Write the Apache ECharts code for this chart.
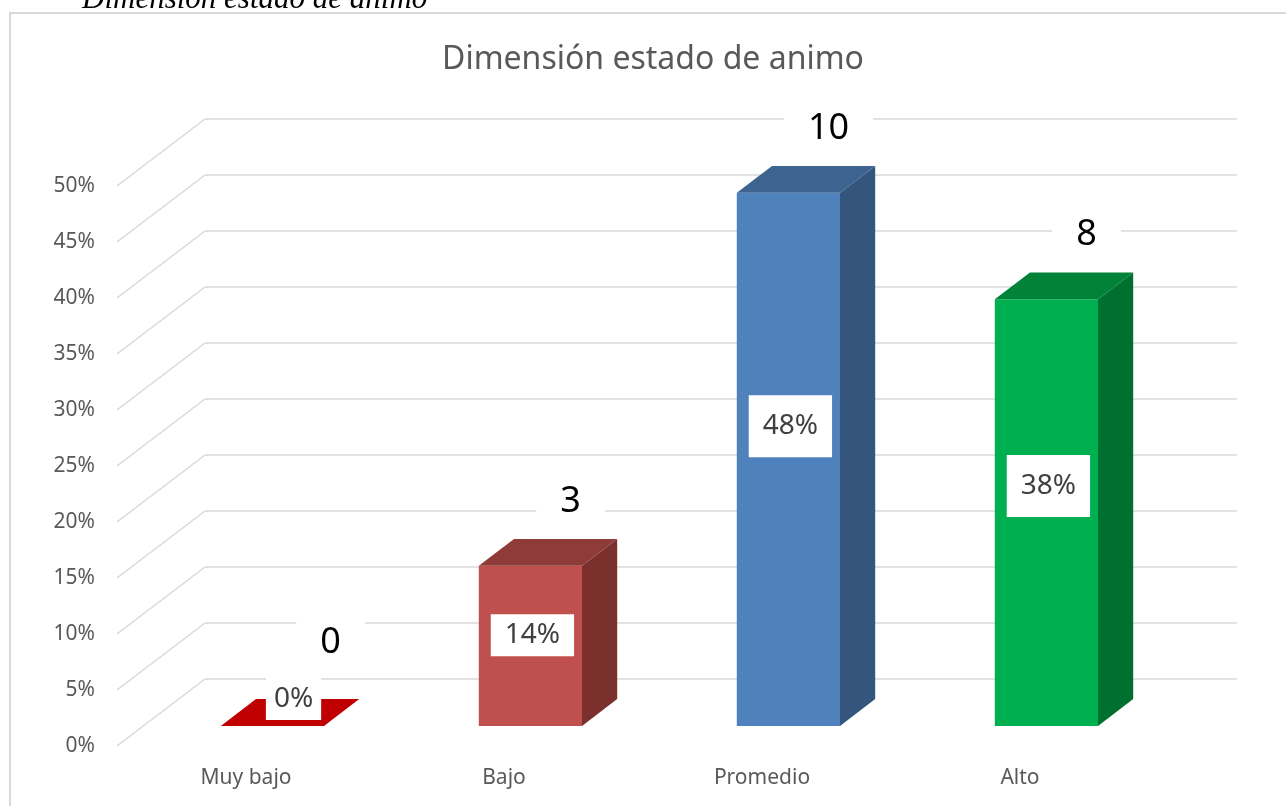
<!DOCTYPE html>
<html>
<head>
<meta charset="utf-8">
<title>Dimensión estado de animo</title>
<script src="https://cdn.jsdelivr.net/npm/echarts@6/dist/echarts.min.js"></script>
<style>
  html, body { margin: 0; padding: 0; background: #fff; }
  #chart { width: 1286px; height: 806px; }
</style>
</head>
<body>
<div id="chart"></div>
<script>
  // data
  const categories = ['Muy bajo', 'Bajo', 'Promedio', 'Alto']
  const counts = [0, 3, 10, 8]
  const shares = [0, 0.143, 0.476, 0.381]
  const yTicks = [0, 0.05, 0.1, 0.15, 0.2, 0.25, 0.3, 0.35, 0.4, 0.45, 0.5]

  // front / top / side colours of each 3d bar
  const palette = [
    { front: '#C00000', top: '#C00000', side: '#A00000' },
    { front: '#C0504D', top: '#8E3B39', side: '#7B302E' },
    { front: '#4F81BD', top: '#3D6391', side: '#34557C' },
    { front: '#00B050', top: '#008238', side: '#007030' }
  ]

  // fake perspective: the back wall sits this far from the front plane
  const DEPTH_X = 88
  const DEPTH_Y = -67
  const BAR_DEPTH = 0.4   // bar depth, as part of the floor depth
  const BAR_POS = 0.3     // where the bar front sits in the floor depth
  const BAR_WIDTH = 0.4   // part of the category band

  const front = { left: 117, top: 186, width: 1032, height: 560 }
  const gridOf = (k) => ({
    left: front.left + DEPTH_X * k,
    top: front.top + DEPTH_Y * k,
    width: front.width,
    height: front.height,
    outerBoundsMode: 'none'
  })

  const chart = echarts.init(document.getElementById('chart'))

  const valueAxis = (gridIndex, extra) => Object.assign({
    type: 'value',
    gridIndex,
    min: 0,
    max: 0.5,
    interval: 0.05,
    axisLine: { show: false },
    axisTick: { show: false },
    axisLabel: { show: false },
    splitLine: { show: false }
  }, extra)

  const catAxis = (gridIndex, extra) => Object.assign({
    type: 'category',
    gridIndex,
    data: categories,
    axisLine: { show: false },
    axisTick: { show: false },
    axisLabel: { show: false },
    splitLine: { show: false }
  }, extra)

  const option = {
    backgroundColor: '#fff',
    animation: false,
    graphic: [
      {
        type: 'rect',
        shape: { x: 10, y: 13, width: 1300, height: 820 },
        style: { fill: 'none', stroke: '#D9D9D9', lineWidth: 2 },
        z: 0
      },
      {
        type: 'text',
        style: {
          text: 'Dimensión estado de animo',
          x: 82,
          y: 0,
          fill: '#000',
          font: 'italic 31px "Liberation Serif"',
          verticalAlign: 'middle'
        }
      },
      {
        type: 'text',
        style: {
          text: 'Dimensión estado de animo',
          x: 653,
          y: 60,
          fill: '#595959',
          font: '32px "Noto Sans"',
          align: 'center',
          verticalAlign: 'middle'
        }
      }
    ],
    // 0: back wall, 1: front plane, 2: plane of the bar fronts
    grid: [gridOf(1), gridOf(0), gridOf(BAR_POS)],
    xAxis: [
      catAxis(0),
      catAxis(1, {
        axisLabel: {
          show: true,
          margin: 22,
          color: '#595959',
          fontSize: 21,
          fontFamily: 'Noto Sans'
        }
      }),
      catAxis(2)
    ],
    yAxis: [
      valueAxis(0, {
        splitLine: { show: true, lineStyle: { color: '#D9D9D9', width: 1.5 } }
      }),
      valueAxis(1, {
        axisLabel: {
          show: true,
          margin: 22,
          color: '#595959',
          fontSize: 21,
          fontFamily: 'Noto Sans',
          formatter: (v) => Math.round(v * 100) + '%'
        }
      }),
      valueAxis(2)
    ],
    series: [
      {
        // side wall lines from the front labels to the back wall
        type: 'custom',
        xAxisIndex: 1,
        yAxisIndex: 1,
        silent: true,
        z: 1,
        data: yTicks.map((v) => [0, v]),
        renderItem: (params, api) => {
          const y = api.coord([0, api.value(1)])[1]
          const x = params.coordSys.x
          return {
            type: 'line',
            shape: { x1: x, y1: y, x2: x + DEPTH_X, y2: y + DEPTH_Y },
            style: { stroke: '#D9D9D9', lineWidth: 1.5 }
          }
        }
      },
      {
        type: 'custom',
        xAxisIndex: 2,
        yAxisIndex: 2,
        z: 3,
        data: shares.map((s, i) => [i, s, counts[i]]),
        renderItem: (params, api) => {
          const i = api.value(0)
          const v = api.value(1)
          const n = api.value(2)
          const base = api.coord([i, 0])
          const top = api.coord([i, v])
          const w = api.size([1, 0])[0] * BAR_WIDTH
          const xl = base[0] - w / 2
          const xr = base[0] + w / 2
          const dx = DEPTH_X * BAR_DEPTH
          const dy = DEPTH_Y * BAR_DEPTH
          const c = palette[i]
          const h = base[1] - top[1]
          const flat = h < 1

          const labelX = flat ? base[0] + dx * 0.6 : base[0] + 2
          const labelY = flat ? base[1] - 27 : base[1] - (0.56 * h + 1)
          const countX = base[0] + dx + (flat ? 23 : 5)
          const countY = top[1] - (flat ? 83 : 64)

          return {
            type: 'group',
            children: [
              {
                type: 'rect',
                shape: { x: xl, y: top[1], width: w, height: h },
                style: { fill: c.front }
              },
              {
                type: 'polygon',
                shape: { points: [[xr, base[1]], [xr, top[1]], [xr + dx, top[1] + dy], [xr + dx, base[1] + dy]] },
                style: { fill: c.side }
              },
              {
                type: 'polygon',
                shape: { points: [[xl, top[1]], [xr, top[1]], [xr + dx, top[1] + dy], [xl + dx, top[1] + dy]] },
                style: { fill: c.top }
              },
              {
                type: 'text',
                z2: 10,
                style: {
                  text: Math.round(v * 100) + '%',
                  x: labelX,
                  y: labelY,
                  align: 'center',
                  verticalAlign: 'middle',
                  fill: '#404040',
                  font: '28px "Noto Sans"',
                  backgroundColor: '#fff',
                  padding: [v > 0.3 ? 17 : 7, flat ? 8 : 14]
                }
              },
              {
                type: 'text',
                z2: 10,
                style: {
                  text: String(n),
                  x: countX,
                  y: countY,
                  align: 'center',
                  verticalAlign: 'middle',
                  fill: '#000',
                  font: '36px "Noto Sans"',
                  backgroundColor: '#fff',
                  padding: [4, 24]
                }
              }
            ]
          }
        }
      }
    ]
  }

  chart.setOption(option)
  window.addEventListener('resize', () => chart.resize())
</script>
</body>
</html>
